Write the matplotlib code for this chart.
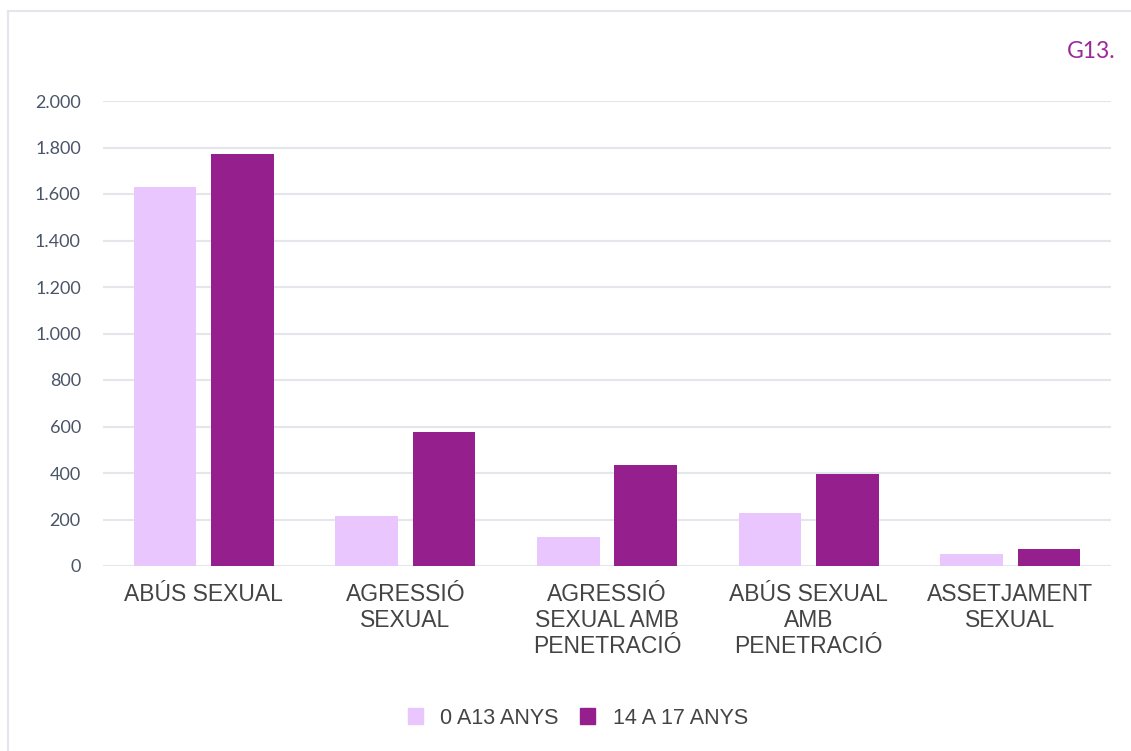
import numpy as np
import matplotlib
matplotlib.use("Agg")
import matplotlib.pyplot as plt
from matplotlib.lines import Line2D
from matplotlib.patches import Patch

# dades
categories = ["ABÚS SEXUAL", "AGRESSIÓ\nSEXUAL", "AGRESSIÓ\nSEXUAL AMB\nPENETRACIÓ",
              "ABÚS SEXUAL\nAMB\nPENETRACIÓ", "ASSETJAMENT\nSEXUAL"]
series_names = ["0 A13 ANYS", "14 A 17 ANYS"]
vals_0_13 = [1630, 215, 125, 228, 52]
vals_14_17 = [1772, 576, 434, 396, 73]
yticks = [0, 200, 400, 600, 800, 1000, 1200, 1400, 1600, 1800, 2000]
ytick_labels = ["0", "200", "400", "600", "800", "1.000", "1.200", "1.400", "1.600", "1.800", "2.000"]

LIGHT = "#e9c6fd"
DARK = "#951f8d"
GRID = "#e3e6ea"
TICK_COL = "#4a5568"

fig = plt.figure(figsize=(11.31, 7.51), dpi=100)
ax = fig.add_axes([103 / 1131, 1 - 566 / 751, 1008 / 1131, 465 / 751])

x = np.arange(len(categories))
w = 0.31
off = 0.192
ax.bar(x - off, vals_0_13, width=w, color=LIGHT, zorder=3)
ax.bar(x + off, vals_14_17, width=w, color=DARK, zorder=3)

ax.set_xlim(-0.5, len(categories) - 0.5)
ax.set_ylim(0, 2000)
ax.set_yticks(yticks)
ax.set_yticklabels(ytick_labels, fontsize=13, color=TICK_COL, family="Lato")
ax.yaxis.grid(True, color=GRID, linewidth=1.5, zorder=0)
ax.tick_params(axis="y", length=0, pad=16)
ax.set_xticks(x)
ax.set_xticklabels(categories, fontsize=16.5, color="#444444", family="Liberation Sans",
                   linespacing=1.17)
ax.tick_params(axis="x", length=0, pad=12)
for s in ax.spines.values():
    s.set_visible(False)

# marc
fig.add_artist(Line2D([7.5 / 1131, 7.5 / 1131], [0, 1 - 11 / 751], color=GRID, lw=1.5))
fig.add_artist(Line2D([7.5 / 1131, 1], [1 - 11 / 751, 1 - 11 / 751], color=GRID, lw=1.5))

fig.text(1115 / 1131, 1 - 52 / 751, "G13.", color="#9a2a9a", fontsize=16.5,
         ha="right", va="center", family="Lato")

handles = [Patch(color=LIGHT), Patch(color=DARK)]
fig.legend(handles, series_names, loc="center", bbox_to_anchor=(578 / 1131, 1 - 718 / 751),
           ncol=2, frameon=False, handlelength=0.7, handleheight=0.7, handletextpad=0.8,
           columnspacing=1.0, prop={"family": "Liberation Sans", "size": 15.5},
           labelcolor="#444444")

fig.savefig("out.png", dpi=100)
